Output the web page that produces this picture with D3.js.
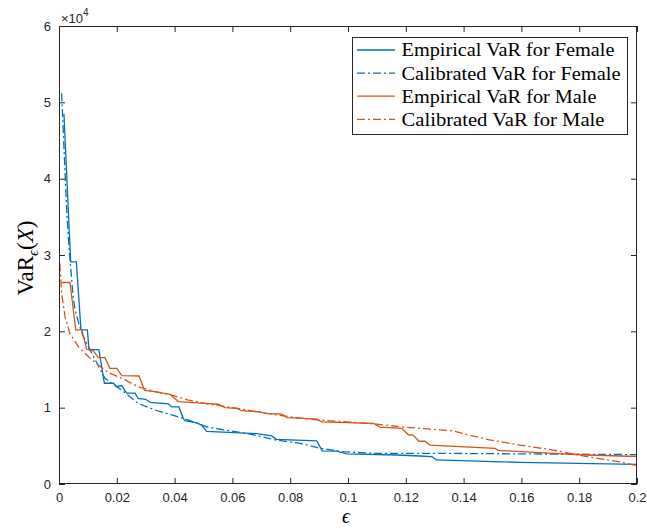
<!DOCTYPE html>
<html><head><meta charset="utf-8">
<script src="https://cdn.jsdelivr.net/npm/d3@7"></script>
<style>body{margin:0;background:#fff}svg{display:block}</style>
</head><body>
<svg id="chart" width="647" height="529"></svg>
<script>
// ---- data (VaR values in raw units) ----
const femaleEmpEps = [0.0017,0.00405,0.006,0.0076,0.0098,0.0104,0.0138,0.0157,0.0188,0.020,0.0217,0.0234,0.0263,0.0274,0.030,0.0315,0.0378,0.039,0.0415,0.043,0.0436,0.0476,0.0494,0.0511,0.0684,0.0736,0.0753,0.0892,0.0911,0.0961,0.0995,0.1169,0.1249,0.129,0.1307,0.1595,0.2];
const femaleEmpVaR = [48500,29100,29100,20200,20200,17600,17600,13200,13200,12750,12900,11900,11900,11200,11100,10700,10500,10100,10100,8600,8300,8000,7700,6900,6600,6300,5850,5650,4350,4300,3950,3800,3670,3580,3150,2840,2580];

const femaleCalEps = [0.0009,0.0027,0.0036,0.0049,0.0055,0.0067,0.0084,0.0119,0.0159,0.0217,0.0274,0.0332,0.039,0.043,0.0511,0.0569,0.0661,0.0753,0.0834,0.0903,0.0984,0.1088,0.1284,0.16,0.2];
const femaleCalVaR = [51200,35500,30300,24500,23000,21200,19300,16700,13850,12300,10550,9700,9050,8600,7500,7100,6550,5750,5330,4680,4230,4020,4020,3950,3850];

const maleEmpEps = [0.0009,0.0038,0.0058,0.0079,0.0096,0.0119,0.0136,0.0159,0.0176,0.020,0.0217,0.0277,0.0296,0.0332,0.0355,0.0384,0.0413,0.0505,0.0551,0.0574,0.0615,0.0632,0.0696,0.0713,0.0771,0.079,0.0892,0.0909,0.1088,0.1111,0.1186,0.1209,0.1225,0.1246,0.1266,0.1284,0.1509,0.152,0.171,0.1826,0.2];
const maleEmpVaR = [26400,26400,20200,20200,17650,17450,16550,16550,15150,15150,14200,14150,12250,12100,11950,11750,10800,10550,10450,10000,9900,9600,9450,9250,9150,8700,8500,8150,7950,7450,7300,6450,6400,5600,5600,5100,4660,4400,4000,3800,3600];

const maleCalEps = [0.0003,0.0009,0.0021,0.0038,0.0067,0.0101,0.0136,0.0171,0.0217,0.0274,0.0332,0.039,0.0447,0.0505,0.0603,0.0719,0.0799,0.0892,0.1007,0.1099,0.118,0.1249,0.1364,0.148,0.1595,0.171,0.1826,0.1941,0.2];
const maleCalVaR = [28900,25000,21900,19700,18000,16700,15600,14600,13850,12750,12100,11650,11000,10550,10000,9250,8800,8400,8100,7850,7500,7300,6950,5850,5100,4450,3600,2900,2400];

const xTicks = [0,0.02,0.04,0.06,0.08,0.1,0.12,0.14,0.16,0.18,0.2];
const yTicks = [0,10000,20000,30000,40000,50000,60000];
const seriesNames = ["Empirical VaR for Female","Calibrated VaR for Female","Empirical VaR for Male","Calibrated VaR for Male"];

// ---- drawing ----
const svg = d3.select("#chart");
const L = 59, R = 637, T = 26, B = 484;
const x = d3.scaleLinear().domain([0,0.2]).range([L,R]);
const y = d3.scaleLinear().domain([0,60000]).range([B,T]);
const axisCol = "#262626";
const blue = "#0072BD", orange = "#D95319";
const dashDot = "8,3,2,3";

svg.append("rect").attr("width",647).attr("height",529).attr("fill","#fff");

svg.append("defs").append("clipPath").attr("id","clip")
  .append("rect").attr("x",L).attr("y",T).attr("width",R-L).attr("height",B-T);

const series = [
  {eps: femaleEmpEps, v: femaleEmpVaR, color: blue, dash: null},
  {eps: femaleCalEps, v: femaleCalVaR, color: blue, dash: dashDot},
  {eps: maleEmpEps, v: maleEmpVaR, color: orange, dash: null},
  {eps: maleCalEps, v: maleCalVaR, color: orange, dash: dashDot}
];

const line = d3.line().x(d => x(d[0])).y(d => y(d[1]));
const g = svg.append("g").attr("clip-path","url(#clip)");
series.forEach(s => {
  g.append("path")
    .datum(s.eps.map((e,i) => [e, s.v[i]]))
    .attr("d", line)
    .attr("fill","none")
    .attr("stroke", s.color)
    .attr("stroke-width", 1.3)
    .attr("stroke-dasharray", s.dash);
});

const fmtX = d => d === 0 ? "0" : d3.format("~g")(d);
const fmtY = d => String(d/10000);
const font = "'Liberation Sans', Arial, Helvetica, sans-serif";

function styleAxis(sel){
  sel.select(".domain").remove();
  sel.selectAll(".tick line").attr("stroke",axisCol).attr("stroke-width",1);
  sel.selectAll(".tick text").attr("fill",axisCol).style("font-family",font).style("font-size","13px");
}

svg.append("g").attr("transform",`translate(0,${B})`)
  .call(d3.axisBottom(x).tickValues(xTicks).tickFormat(fmtX).tickSizeInner(-6).tickSizeOuter(0).tickPadding(9))
  .call(styleAxis);
svg.append("g").attr("transform",`translate(0,${T})`)
  .call(d3.axisTop(x).tickValues(xTicks).tickFormat("").tickSizeInner(-6).tickSizeOuter(0))
  .call(styleAxis);
svg.append("g").attr("transform",`translate(${L},0)`)
  .call(d3.axisLeft(y).tickValues(yTicks).tickFormat(fmtY).tickSizeInner(-6).tickSizeOuter(0).tickPadding(8))
  .call(styleAxis);
svg.append("g").attr("transform",`translate(${R},0)`)
  .call(d3.axisRight(y).tickValues(yTicks).tickFormat("").tickSizeInner(-6).tickSizeOuter(0))
  .call(styleAxis);

svg.append("rect").attr("x",L+0.5).attr("y",T+0.5).attr("width",R-L-1).attr("height",B-T-1)
  .attr("fill","none").attr("stroke",axisCol).attr("stroke-width",1);

// exponent label
const ex = svg.append("text").attr("x",61).attr("y",23).attr("fill",axisCol)
  .style("font-family",font).style("font-size","13px");
ex.append("tspan").text("×10");
ex.append("tspan").attr("dy",-7).style("font-size","10px").text("4");

// axis labels
const serif = "'Liberation Serif','DejaVu Serif','Times New Roman',serif";
svg.append("text").attr("x",346).attr("y",523).attr("text-anchor","middle")
  .style("font-family",serif).style("font-style","italic").style("font-size","20px").attr("fill","#000").text("ϵ");

const yl = svg.append("text").attr("transform","translate(33,258) rotate(-90)")
  .attr("text-anchor","middle").style("font-family",serif).style("font-size","23px").attr("fill","#000");
yl.append("tspan").text("VaR");
yl.append("tspan").attr("dy",5).style("font-size","15px").style("font-style","italic").text("ϵ");
yl.append("tspan").attr("dy",-5).text("(");
yl.append("tspan").style("font-style","italic").text("X");
yl.append("tspan").text(")");

// legend
const lg = svg.append("g");
lg.append("rect").attr("x",352.5).attr("y",37.5).attr("width",275).attr("height",97)
  .attr("fill","#fff").attr("stroke",axisCol).attr("stroke-width",1);
const widths = [213,219,195,203];
series.forEach((s,i) => {
  const cy = 50 + i*23.1;
  lg.append("line").attr("x1",357).attr("x2",395).attr("y1",cy).attr("y2",cy)
    .attr("stroke",s.color).attr("stroke-width",1.3).attr("stroke-dasharray",s.dash);
  lg.append("text").attr("x",401.5).attr("y",cy).attr("dy","0.36em")
    .style("font-family",serif).style("font-size","18px").attr("fill","#000")
    .attr("textLength",widths[i]).attr("lengthAdjust","spacingAndGlyphs")
    .text(seriesNames[i]);
});
</script>
</body></html>
